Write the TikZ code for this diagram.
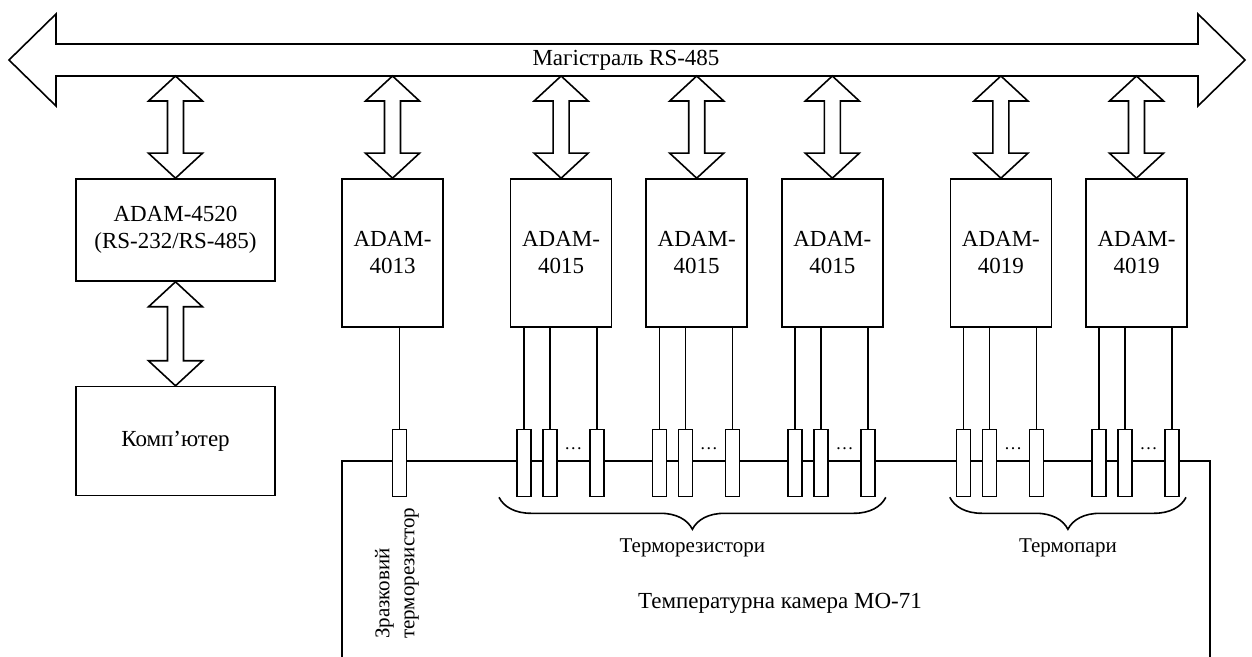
\documentclass[tikz,border=0pt]{standalone}
\usepackage{fontspec}
\setmainfont{Liberation Serif}
\usetikzlibrary{positioning,calc,decorations.pathreplacing}
\tikzset{
  adam/box/.style={
    draw, line width=0.8pt, align=center, inner sep=2pt,
    minimum width=50.5pt, minimum height=74pt, font=\fontsize{11.5}{13.5}\selectfont
  },
  adam/sens/.style={
    draw, line width=0.8pt, fill=white, inner sep=0pt,
    minimum width=7pt, minimum height=33.5pt
  },
  adam/wire/.style={line width=0.8pt},
  adam/fat/.style={
    draw, line width=0.8pt, fill=white,
    to path={let \p1=(\tikztostart), \p2=(\tikztotarget) in
      (\x1,\y1) -- (\x1+13.5pt,\y1-12.5pt) -- (\x1+4pt,\y1-12.5pt)
      -- (\x1+4pt,\y2+12.5pt) -- (\x1+13.5pt,\y2+12.5pt) -- (\x1,\y2)
      -- (\x1-13.5pt,\y2+12.5pt) -- (\x1-4pt,\y2+12.5pt)
      -- (\x1-4pt,\y1-12.5pt) -- (\x1-13.5pt,\y1-12.5pt) -- cycle}
  },
  adam/brc/.style={decorate, decoration={brace, mirror, amplitude=16pt}, line width=0.8pt},
  adam/lbl/.style={font=\fontsize{10.5}{12.5}\selectfont},
  adam/big/.style={font=\fontsize{11.5}{13.5}\selectfont}
}

\begin{document}
\begin{tikzpicture}[x=0.5pt, y=-0.5pt]
  \useasboundingbox (0,0) rectangle (1252,657);

  % RS-485 bus
  \draw[adam/wire, fill=white] (9,60) -- (56,14) -- (56,44) -- (1198,44) -- (1198,14)
    -- (1245,60) -- (1198,106) -- (1198,76) -- (56,76) -- (56,106) -- cycle;
  \node[adam/big] (bus) at (626,60) {Магістраль RS-485};
  \coordinate (busS) at (0,76);

  % chamber
  \draw[adam/wire] (342,657) -- (342,461) -- (1210,461) -- (1210,657);
  \node[adam/big] (mo71) at (780,603) {Температурна камера МО-71};
  \coordinate (chT) at (0,463);
  \coordinate (dotY) at (0,449);

  % modules
  \node[adam/box, minimum width=99.5pt, minimum height=51pt] (a4520) at (175.5,230)
    {ADAM-4520\\(RS-232/RS-485)};
  \node[adam/box, minimum width=99.5pt, minimum height=54.5pt, below=52pt of a4520] (pc)
    {Комп’ютер};
  \node[adam/box] (a4013) at (392.5,253) {ADAM-\\4013};
  \node[adam/box, right=33pt of a4013] (a4015a) {ADAM-\\4015};
  \node[adam/box, right=16.5pt of a4015a] (a4015b) {ADAM-\\4015};
  \node[adam/box, right=16.5pt of a4015b] (a4015c) {ADAM-\\4015};
  \node[adam/box, right=33pt of a4015c] (a4019a) {ADAM-\\4019};
  \node[adam/box, right=16.5pt of a4019a] (a4019b) {ADAM-\\4019};

  \foreach \b in {a4520,a4013,a4015a,a4015b,a4015c,a4019a,a4019b}
    \draw[adam/fat] (busS -| \b.north) to (\b.north);
  \draw[adam/fat] (a4520.south) to (pc.north);

  % sensors
  \node[adam/sens] (sref) at (399.5,463) {};
  \draw[adam/wire] (a4013.south -| sref.north) -- (sref.north);
  \node[adam/lbl, rotate=90, anchor=west, align=left] (sreflbl) at (397,646)
    {Зразковий\\терморезистор};

  \foreach \b in {a4015a,a4015b,a4015c,a4019a,a4019b}{
    \foreach \k/\dx in {1/14,2/40,3/87}{
      \path (\b.south west) ++(\dx,0) coordinate (tmp);
      \node[adam/sens] (\b-\k) at (tmp |- chT) {};
      \draw[adam/wire] (\b.south -| \b-\k.north) -- (\b-\k.north);
    }
    \path ($(\b-2.east)!0.5!(\b-3.west)$) coordinate (mid);
    \node[anchor=base, font=\fontsize{9}{10}\selectfont] (\b-dots) at (mid |- dotY) {\ldots};
  }

  % groups
  \draw[adam/brc] ([xshift=-8.5pt]a4015a-1.south west) -- ([xshift=5pt]a4015c-3.south east)
    node[midway, yshift=-25.5pt, adam/lbl] (rlbl) {Терморезистори};
  \draw[adam/brc] ([xshift=-3pt]a4019a-1.south west) -- ([xshift=3pt]a4019b-3.south east)
    node[midway, yshift=-25.5pt, adam/lbl] (tlbl) {Термопари};
\end{tikzpicture}
\end{document}
